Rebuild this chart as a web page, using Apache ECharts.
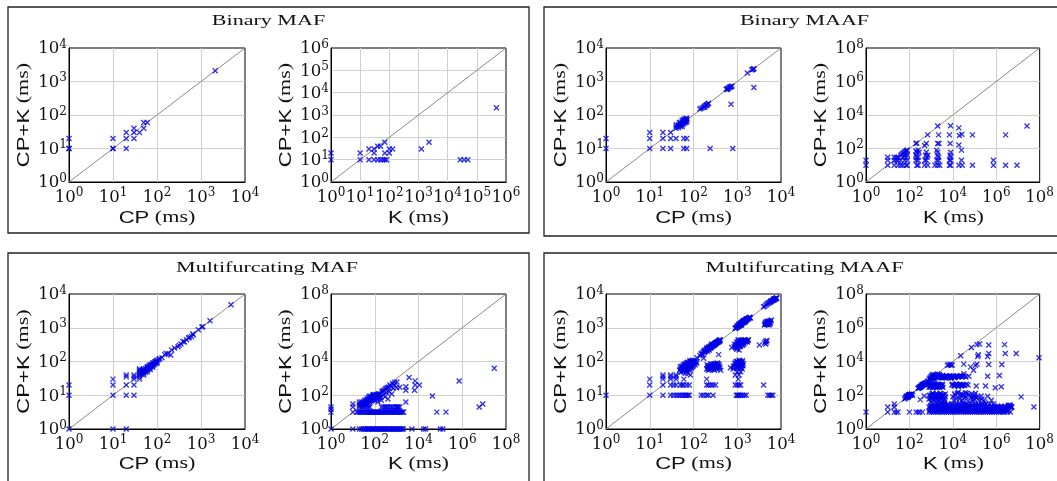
<!DOCTYPE html>
<html><head><meta charset="utf-8">
<script src="https://cdn.jsdelivr.net/npm/echarts@6/dist/echarts.min.js"></script>
<style>html,body{margin:0;padding:0;background:#fff}#c{width:1057px;height:481px}</style>
</head><body><div id="c"></div>
<script>
// ---------- data: [x, CP+K] in ms ----------
const binMafCP = [[1,20],[1,10],[1,10],[10,20],[10,10],[10,10],[20,30],[20,20],[20,10],[30,40],[30,30],[30,20],[40,30],[50,40],[50,60],[60,60],[2100,2100]];
const binMafK = [[1,20],[1,10],[10,20],[10,10],[20,30],[20,10],[30,30],[30,20],[30,10],[40,40],[50,40],[40,10],[50,10],[60,10],[70,60],[70,20],[70,10],[80,10],[100,20],[100,30],[130,30],[1260,30],[2300,60],[27000,10],[37000,10],[49000,10],[470000,2100]];
const binMaafCP = [[1,20],[1,10],[10,30],[10,20],[10,10],[20,30],[20,20],[20,10],[30,30],[30,20],[30,10],[40,20],[60,20],[70,20],[60,10],[70,10],
[40,40],[40,45],[40,50],[45,42],[45,48],[45,52],[50,45],[50,50],[50,55],[50,60],[55,50],[55,56],[55,62],[55,70],[60,55],[60,60],[60,65],[60,70],[60,75],[65,60],[65,65],[65,70],[65,78],[70,62],[70,70],[70,75],[70,80],[55,45],[48,60],
[240,10],[140,150],[150,160],[165,165],[175,180],[185,190],[195,200],[205,205],[215,215],[220,225],[180,170],[200,195],
[720,210],[560,590],[590,610],[620,630],[650,660],[680,680],[700,690],[730,710],[760,730],[600,580],
[790,10],[1700,1800],[2150,2200],[2250,2300],[2350,2350],[2400,2400],[2400,660]];
const binMaafK = [[1,20],[1,10],[10,30],[10,20],[10,10],[20,30],[20,20],[20,10],[25,30],[25,20],[30,30],[30,20],[30,10],
[40,40],[45,45],[50,50],[55,55],[60,60],[65,65],[70,70],[75,75],[80,80],[50,30],[60,40],[60,20],[70,30],[70,10],[50,10],[80,10],[40,20],[40,10],[80,20],[80,40],
[200,200],[220,210],[250,80],[220,60],[200,40],[250,30],[200,20],[250,10],[220,10],[280,60],[200,70],[250,20],[210,30],
[500,150],[600,200],[690,650],[600,60],[700,40],[600,20],[700,10],[500,10],[520,20],[650,30],[560,40],
[2000,2200],[2200,650],[2000,200],[1800,80],[2000,40],[2200,20],[2000,10],[1500,10],[2500,10],[2000,60],[2200,30],[1800,20],[2300,200],
[7900,2300],[7000,650],[7500,200],[8000,60],[7900,30],[8000,20],[7000,10],[8000,10],[7500,40],[7000,20],
[19000,1700],[20000,600],[19000,160],[19000,10],[26000,700],[25000,80],[25000,20],[27000,10],
[80000,650],[80000,10],[740000,20],[740000,10],[2700000,650],[2700000,10],[9000000,10],[26000000,2200]];
const multMafCP = [[1,20],[1,10],[1,1],[10,30],[10,20],[10,10],[10,1],[20,40],[20,35],[20,20],[20,10],[20,1],[30,40],[30,35],[30,30],[30,20],[30,10],
[40,60],[40,55],[40,50],[40,45],[40,40],[40,35],[40,30],[45,55],[45,50],[45,42],[50,60],[50,55],[50,50],[50,45],[50,40],[55,62],[55,55],[55,48],[60,70],[60,65],[60,60],[60,55],[60,50],[65,75],[65,68],[65,60],[70,80],[70,72],[70,65],[70,58],[75,80],[75,72],[80,90],[80,82],[80,75],[80,68],[85,90],[85,80],[90,100],[90,92],[90,85],[95,100],[95,95],[100,110],[100,105],[100,95],[100,88],[110,115],[115,123],
[130,130],[150,160],[160,174],[180,170],[205,155],[215,220],[250,250],[300,275],[320,300],[350,330],[390,390],[420,380],[470,440],[520,500],[550,520],[610,550],[670,615],[650,650],[870,870],[1050,1050],[1100,1080],[1600,1620],[4800,4800]];
const multMafK = [[1,20],[1,15],[1,10],[1,1],[10,30],[10,20],[10,10],[10,1],
[15,10],[17,10],[20,10],[22,10],[25,10],[27,10],[30,10],[35,10],[40,10],[45,10],[50,10],[55,10],[60,10],[65,10],[70,10],[75,10],[80,10],[90,10],[100,10],[110,10],[120,10],[135,10],[150,10],[165,10],[180,10],[200,10],[220,10],[245,10],[270,10],[300,10],[330,10],[360,10],[400,10],[450,10],[500,10],[550,10],[600,10],[680,10],[750,10],[820,10],[900,10],[1000,10],[1100,10],[1250,10],[1400,10],[1550,10],[1700,10],[1900,10],[2100,10],
[20,1],[25,1],[30,1],[35,1],[40,1],[45,1],[50,1],[55,1],[60,1],[70,1],[80,1],[90,1],[100,1],[115,1],[130,1],[145,1],[160,1],[180,1],[200,1],[225,1],[250,1],[275,1],[300,1],[350,1],[400,1],[450,1],[500,1],[575,1],[650,1],[720,1],[800,1],[900,1],[1000,1],[1150,1],[1300,1],[1450,1],[1600,1],[1800,1],[2000,1],[5000,1],[17000,1],[21000,1],[100000,1],[130000,1],
[20,20],[20,30],[30,20],[30,30],[40,20],[50,20],[60,20],[200,20],[250,20],[300,20],[350,20],[400,20],[500,20],[600,20],[720,20],[900,20],[1000,20],[1100,20],[1200,20],[1400,20],
[20,25],[25,40],[30,40],[35,30],[40,40],[40,30],[45,50],[50,40],[50,30],[55,60],[60,50],[60,40],[65,70],[70,60],[70,45],[75,80],[80,70],[80,50],[85,90],[90,80],[90,60],[95,100],[100,90],[100,70],[100,50],[110,100],[120,80],[130,60],[140,40],[150,125],[160,90],[180,70],[200,50],[213,160],[250,100],[300,230],[300,80],[350,140],[430,310],[550,330],[450,160],[700,250],[1030,610],[1000,280],[1400,300],[2650,316],[2650,200],[2650,40],[3700,1120],[7000,710],[7000,400],[6600,200],[11000,400],[43000,90],[69000,10],[180000,10],[720000,690],[5900000,20],[8700000,30],[29000000,4000],[800,400],[600,120],[400,60],
[25,30],[30,25],[35,40],[35,50],[40,50],[45,40],[45,60],[50,50],[50,70],[55,45],[55,80],[60,60],[60,90],[65,55],[70,80],[75,60],[80,100],[85,70],[90,110],[100,100],[110,70],[120,110],[130,90],[140,70],[150,100],[170,120],[190,80],[230,180],[260,200],[330,260],[380,280],[500,400],[650,500],[800,600],[20,40],[25,20],[40,25]];
const multMaafCP = [[1,10],[10,10],[20,10],[30,10],[35,10],[40,10],[45,10],[50,10],[55,10],[60,10],[65,10],[70,10],[75,10],[80,10],[150,10],[170,10],[200,10],[220,10],[280,10],[950,10],[1000,10],[1050,10],[1100,10],[1200,10],[1300,10],[1450,10],[1600,10],[5000,10],[5500,10],[6000,10],[6500,10],
[10,20],[20,20],[30,20],[35,20],[40,20],[50,20],[55,20],[60,20],[70,20],[80,20],[200,20],[220,20],[250,20],[280,20],[320,20],[900,20],[1000,20],[1100,20],[1200,20],[4000,20],
[10,30],[20,30],[30,30],[40,30],[60,30],[200,30],[1050,30],[20,40],[30,40],[30,35],[40,40],[40,35],[20,35],
[50,60],[50,70],[55,55],[55,65],[55,75],[60,50],[60,60],[60,70],[60,80],[65,55],[65,65],[65,75],[65,85],[70,50],[70,60],[70,70],[70,80],[70,90],[75,60],[75,70],[75,80],[75,90],[80,55],[80,65],[80,75],[80,85],[80,95],[85,60],[85,70],[85,80],[85,90],[85,100],[90,65],[90,75],[90,85],[90,95],[95,70],[95,80],[95,90],[95,100],[100,75],[100,85],[100,95],[100,105],[110,80],[110,95],[120,90],[75,45],[85,40],[65,45],
[52,48],[58,62],[62,58],[68,72],[72,66],[78,82],[82,78],[88,92],[92,88],[98,98],[105,100],[58,52],[62,68],[68,62],[72,88],[78,68],[88,72],[92,102],[105,90],[115,100],[48,55],[53,68],[63,82],[73,95],[83,105],[93,110],
[140,150],[150,170],[160,180],[170,200],[180,190],[180,220],[190,210],[200,230],[200,250],[210,200],[220,240],[220,270],[230,260],[240,280],[250,300],[250,250],[260,270],[270,310],[280,290],[280,320],[300,300],[300,340],[320,330],[320,360],[340,350],[350,390],[370,380],[380,420],[400,410],[260,330],[230,220],[120,130],[160,160],[170,125],[375,160],
[155,165],[175,185],[195,215],[215,225],[235,250],[255,275],[275,295],[295,315],[315,345],[335,365],[355,375],[375,400],[395,430],[245,265],[265,290],[285,305],[305,325],[325,340],[345,370],[205,245],[225,255],[390,390],[410,440],[185,200],
[200,60],[210,70],[220,55],[230,65],[240,75],[250,60],[260,70],[270,80],[280,65],[290,75],[300,85],[310,70],[320,80],[330,60],[340,75],[350,90],[360,70],[380,80],[400,65],[250,85],[300,55],[420,55],
[205,80],[215,62],[225,75],[235,58],[245,68],[255,80],[265,62],[275,72],[285,85],[295,60],[305,78],[315,65],[325,88],[335,70],[345,62],[355,80],[365,85],[390,72],
[900,950],[950,1000],[1000,1050],[1000,1150],[1050,1100],[1100,1150],[1100,1250],[1150,1200],[1200,1300],[1200,1400],[1250,1350],[1300,1400],[1300,1500],[1350,1450],[1400,1500],[1400,1650],[1450,1550],[1500,1600],[1550,1700],[1600,1750],[1650,1800],[1700,1850],[1800,1900],[1900,2000],[2000,1950],[1250,1200],[1500,1450],
[920,980],[980,1020],[1030,1080],[1080,1200],[1130,1150],[1180,1250],[1220,1350],[1270,1300],[1320,1450],[1370,1400],[1420,1550],[1480,1500],[1520,1650],[1580,1600],[1620,1700],[1680,1750],[1750,1800],[1850,1950],[1950,2050],[1100,1300],[1200,1200],[1350,1550],[1450,1650],[1600,1850],
[850,280],[900,300],[950,320],[1000,260],[1000,350],[1050,300],[1050,400],[1100,280],[1100,350],[1150,320],[1150,420],[1200,300],[1200,380],[1250,350],[1300,400],[1300,320],[1350,380],[1400,430],[1500,400],[1600,420],[1700,380],[1800,440],[950,250],[750,260],[1100,220],
[880,330],[930,270],[980,380],[1020,300],[1080,330],[1120,380],[1180,280],[1220,400],[1280,360],[1320,300],[1380,420],[1450,350],[1550,380],[1650,400],[1750,420],[1250,430],[1050,440],[980,230],[1400,330],[1500,440],
[800,60],[850,75],[900,90],[950,65],[1000,80],[1000,100],[1050,70],[1100,90],[1100,60],[1150,80],[1200,100],[1200,70],[1250,85],[1300,95],[1350,75],[1100,110],[1200,50],[1000,50],[900,40],[1100,40],[1300,60],[700,65],
[820,70],[880,85],[920,70],[980,90],[1020,65],[1080,80],[1120,100],[1180,65],[1220,90],[1280,75],[1320,105],[1380,85],[1050,95],[1150,105],[950,100],[1250,65],[1000,70],
[4200,1200],[4500,1300],[4800,1400],[5000,1250],[5200,1500],[5500,1450],[5800,1600],[6000,1700],[5600,1300],[4600,1500],
[4300,1300],[4700,1250],[4900,1550],[5100,1350],[5400,1600],[5700,1400],[4400,1400],[5300,1200],
[3200,310],[4200,350],[4400,400],[4600,380],[4800,420],[4500,330],
[4000,4200],[4500,4600],[5000,5200],[5500,5600],[6000,6000],[6500,6400],[7000,6800],[7500,7200],[8000,7500],[7000,7300],[5800,6200],
[4200,4300],[4700,5000],[5200,5400],[5700,5800],[6200,6300],[6700,6600],[7200,7000],[7700,7400],[7800,7800],[6800,7000]];
const multMaafK = [[1,10],[10,20],[10,10],[20,30],[20,20],[20,10],[25,10],[30,10],[100,10],
[60,60],[70,70],[80,80],[90,85],[100,95],[110,100],[120,110],[130,120],[75,90],[95,105],[85,75],[140,100],
[65,70],[75,75],[85,90],[95,95],[105,110],[115,105],[125,115],[70,80],[90,100],[100,110],
[316,55],[480,91],[200,10],[250,10],[300,10],[400,10],
[250,250],[280,280],[320,300],[350,330],[400,380],[450,420],[500,460],[550,500],[300,320],[380,420],[420,400],[480,480],
[260,270],[300,290],[340,350],[370,360],[430,450],[470,440],[520,490],[570,540],[330,310],[410,420],
[800,10],[1000,10],[1300,10],[1600,10],[2000,10],[2500,10],[3200,10],[4000,10],[5000,10],[6300,10],[8000,10],[10000,10],[12600,10],[16000,10],[20000,10],[25000,10],[32000,10],[40000,10],[50000,10],[63000,10],[80000,10],[100000,10],[126000,10],[160000,10],[200000,10],[250000,10],[320000,10],[400000,10],[500000,10],[630000,10],[800000,10],[1000000,10],[1300000,10],[1600000,10],[2000000,10],[2500000,10],[3200000,10],[4500000,10],
[850,12],[1150,12],[1450,12],[1900,12],[2400,12],[3000,12],[3800,12],[4800,12],[6000,12],[7500,12],[9500,12],[12000,12],[15000,12],[19000,12],[24000,12],[30000,12],[38000,12],[48000,12],[60000,12],[75000,12],[95000,12],[120000,12],[150000,12],[190000,12],[240000,12],[300000,12],[380000,12],[480000,12],[600000,12],[750000,12],[950000,12],[1200000,12],[1500000,12],[1900000,12],[2400000,12],[3000000,12],[3800000,12],
[900,15],[1300,15],[1800,15],[2500,15],[3500,15],[5000,15],[7000,15],[10000,15],[14000,15],[20000,15],[28000,15],[40000,15],[56000,15],[80000,15],[110000,15],[160000,15],[220000,15],[320000,15],[450000,15],[700000,15],[1000000,15],[1500000,15],[2200000,15],[3000000,15],
[1000,18],[1400,18],[1900,18],[2600,18],[3600,18],[5000,18],[7000,18],[10000,18],[14000,18],[19000,18],[26000,18],[36000,18],[50000,18],[70000,18],[100000,18],[140000,18],[200000,18],[280000,18],[380000,18],[520000,18],[750000,18],[1100000,18],[1600000,18],[2300000,18],[3400000,18],[4800000,18],
[800,20],[1100,20],[1500,20],[2000,20],[2800,20],[4000,20],[5600,20],[8000,20],[11000,20],[16000,20],[22000,20],[32000,20],[45000,20],[63000,20],[90000,20],[130000,20],[180000,20],[250000,20],[400000,20],[600000,20],[900000,20],[1300000,20],[1800000,20],[2600000,20],[3700000,20],[5200000,20],[54000000,20],
[950,22],[1300,22],[1700,22],[2300,22],[3000,22],[4200,22],[5800,22],[8000,22],[11000,22],[15000,22],[21000,22],[29000,22],[40000,22],[56000,22],[78000,22],[110000,22],[150000,22],[210000,22],[290000,22],[410000,22],[580000,22],[820000,22],[1150000,22],[1700000,22],[2400000,22],[3400000,22],[4500000,22],
[1000,26],[1500,26],[2200,26],[3200,26],[4500,26],[6500,26],[9000,26],[13000,26],[18000,26],[26000,26],[38000,26],[55000,26],[75000,26],[110000,26],[150000,26],[220000,26],[300000,26],[3800000,26],[4500000,26],
[1200,30],[1800,30],[2700,30],[4000,30],[6000,30],[9000,30],[14000,30],[20000,30],[30000,30],[45000,30],[67000,30],[100000,30],[150000,30],[220000,30],[330000,30],[500000,30],[750000,30],
[800,60],[900,80],[1000,100],[1100,120],[1200,70],[1400,90],[1600,110],[1800,60],[2000,80],[2200,100],[2500,120],[2800,70],[3200,90],[3600,110],[4000,60],[4500,80],[1300,50],[2400,50],[3500,45],[1000,40],[2000,40],[3000,35],[4000,40],
[850,100],[950,70],[1050,60],[1150,90],[1300,110],[1500,70],[1700,90],[1900,120],[2100,60],[2300,85],[2600,95],[3000,60],[3400,75],[3800,100],[4200,55],[1200,130],[2700,130],[4500,120],
[800,900],[900,1100],[1000,1300],[1100,1500],[1200,1000],[1300,1200],[1500,1400],[1700,1600],[2000,1100],[2200,1300],[2500,1500],[2800,1200],[3200,1400],[3500,1100],[4000,1300],[1000,800],[1500,900],[2000,1800],[1200,1700],
[700,700],[650,600],[600,550],[750,650],[900,1000],[950,850],[1100,1000],[1150,1250],[1250,1100],[1400,1600],[1600,1300],[1800,1500],[2100,1200],[2400,1700],[2600,1100],[3000,1250],[3400,1500],[3800,1150],
[800,300],[900,350],[1000,400],[1100,450],[1200,280],[1400,330],[1600,380],[1800,430],[2000,300],[2200,350],[2500,400],[2800,330],[3200,380],[3500,300],[1300,500],
[850,400],[950,300],[1050,350],[1150,420],[1250,300],[1350,450],[1500,350],[1700,300],[1900,400],[2100,450],[2400,300],[2700,420],[3000,350],[3300,450],
[4500,1200],[5500,1300],[6500,1100],[7500,1400],[9000,1250],[11000,1300],[5000,1450],[8000,1000],
[6000,1250],[7000,1350],[8500,1150],[10000,1400],[12000,1100],[14000,1350],[18000,1200],[22000,1450],[28000,1300],[40000,1200],[4800,1050],
[5600,6000],[6500,6300],[7500,6600],[8500,6000],[9300,6200],
[9000,400],[11000,380],[13000,430],[16000,400],[20000,420],[25000,380],[28000,400],
[9500,450],[12000,350],[15000,460],[18000,330],[22000,450],[26000,350],[30000,420],[35000,380],[42000,450],
[13000,1200],[16000,1400],[20000,1300],[25000,1250],[32000,1400],[55000,1350],
[10000,80],[12000,120],[15000,60],[18000,150],[22000,90],[28000,110],[35000,70],[45000,130],[60000,90],[80000,60],[100000,100],[90000,80],[120000,70],[50000,45],[30000,40],
[11000,50],[13000,100],[16000,130],[20000,60],[24000,120],[26000,50],[32000,100],[38000,140],[40000,80],[55000,110],[70000,75],[75000,120],[85000,50],[110000,130],[95000,65],[160000,50],[200000,90],[250000,45],
[23000,22000],[72000,68000],[130000,100000],[170000,110000],[450000,95000],[2400000,100000],[2600000,30000],[8300000,30000],[93000000,16600],[32000,1900],[140000,20000],[150000,25000],[450000,30000],[400000,20000],[32000,7000],[110000,6000],[130000,7000],[450000,6600],[66000,4800],[400000,1350],[1400000,1500],[1800000,6700],[900000,275],[1700000,316],[320000,350],[400000,87],[220000,60],[140000,80],[14000000,80],[4000000,25],[5000000,20],[120000,350],[50000,400],[300000,40],[600000,50],[90000,3000]];

const panelTitles = ['Binary MAF', 'Binary MAAF', 'Multifurcating MAF', 'Multifurcating MAAF'];
const xNames = ['CP', 'K', 'CP', 'K', 'CP', 'K', 'CP', 'K'];
const yName = 'CP+K';
const unitText = '(ms)';
const maxExp = [4, 6, 4, 8, 4, 8, 4, 8];

// ---------- layout ----------
const plots = [binMafCP, binMafK, binMaafCP, binMaafK, multMafCP, multMafK, multMaafCP, multMaafK];
const rects = [[69,48,176,134],[331,48,175,134],[606,48,175,134],[866,48,175,134],
               [69,294,176,135],[331,294,175,135],[606,294,175,135],[866,294,175,135]];
const TITLE_STRETCH = 1.47;
const NAME_STRETCH = 1.3;
const SERIF = 'Liberation Serif';
const SANS = 'Liberation Sans';

const tickRich = {
  b: {fontFamily: 'DejaVu Serif', fontSize: 16.5, color: '#111', lineHeight: 19, verticalAlign: 'bottom'},
  s: {fontFamily: 'DejaVu Serif', fontSize: 12, color: '#111', lineHeight: 12, verticalAlign: 'top'}
};
const fmt = v => '{b|10}{s|' + Math.round(Math.log10(v)) + '}';

function axis(i, dir) {
  const e = maxExp[i];
  return {
    type: 'log', gridIndex: i, logBase: e === 8 ? 100 : 10,
    min: 1, max: Math.pow(10, e), splitNumber: e === 8 ? 4 : e,
    axisLine: {show: true, lineStyle: {color: '#000', width: 1}},
    axisTick: {show: false},
    minorTick: {show: false},
    splitLine: {show: true, showMinLine: false, showMaxLine: false, lineStyle: {color: '#cfcfcf', width: 1}},
    axisLabel: {formatter: fmt, rich: tickRich, margin: dir === 'x' ? 5 : 2, hideOverlap: false}
  };
}

const grid = rects.map(r => ({left: r[0], top: r[1], width: r[2], height: r[3], show: true,
  borderColor: '#000', borderWidth: 1, backgroundColor: 'rgba(0,0,0,0)'}));
const xAxis = rects.map((r, i) => axis(i, 'x'));
const yAxis = rects.map((r, i) => axis(i, 'y'));
const series = [];
plots.forEach((d, i) => {
  const m = Math.pow(10, maxExp[i]);
  series.push({type: 'line', xAxisIndex: i, yAxisIndex: i, data: [[1, 1], [m, m]], showSymbol: false,
    symbol: 'none', silent: true, z: 1, lineStyle: {color: '#8a8a8a', width: 1}});
  series.push({type: 'scatter', xAxisIndex: i, yAxisIndex: i, data: d, clip: false, z: 3,
    symbol: 'path://M0,0L10,10M10,0L0,10', symbolSize: 5,
    itemStyle: {color: 'rgba(0,0,0,0)', borderColor: '#0000e6', borderWidth: 1.35}});
});

// graphic: panel boxes, titles, axis names
const graphic = [];
const boxes = [[8,7,521,226],[544,7,530,229],[8,253,521,240],[544,253,530,240]];
boxes.forEach(b => graphic.push({type: 'rect', shape: {x: b[0], y: b[1], width: b[2], height: b[3]},
  style: {fill: 'none', stroke: '#222', lineWidth: 1.3}, silent: true}));
const titlePos = [[268.5, 21], [804.5, 21], [267, 268], [804.5, 268]];
panelTitles.forEach((t, k) => graphic.push({type: 'text', x: titlePos[k][0], y: titlePos[k][1], scaleX: TITLE_STRETCH,
  style: {text: t, font: '15px "' + SERIF + '"', fill: '#111', align: 'center', verticalAlign: 'middle',
    textAlign: 'center', textVerticalAlign: 'middle'}, silent: true}));
const nameRich = {sf: {fontFamily: SANS, fontSize: 17, fill: '#111'}, rm: {fontFamily: SERIF, fontSize: 17, fill: '#111'}};
rects.forEach((r, i) => {
  const bottomRow = i >= 4;
  graphic.push({type: 'text', x: r[0] + r[2] / 2, y: bottomRow ? 464 : 218, scaleX: NAME_STRETCH,
    style: {text: '{sf|' + xNames[i] + '} {rm|' + unitText + '}', rich: nameRich, font: '17px "' + SERIF + '"', fill: '#111',
      align: 'center', verticalAlign: 'middle', textAlign: 'center', textVerticalAlign: 'middle'}, silent: true});
  graphic.push({type: 'text', x: r[0] - 45, y: r[1] + r[3] / 2, scaleX: NAME_STRETCH, rotation: Math.PI / 2,
    style: {text: '{sf|' + yName + '} {rm|' + unitText + '}', rich: nameRich, font: '17px "' + SERIF + '"', fill: '#111',
      align: 'center', verticalAlign: 'middle', textAlign: 'center', textVerticalAlign: 'middle'}, silent: true});
});

const chart = echarts.init(document.getElementById('c'), null, {renderer: 'canvas'});
chart.setOption({animation: false, backgroundColor: '#fff', grid, xAxis, yAxis, series, graphic});
</script>
</body></html>
